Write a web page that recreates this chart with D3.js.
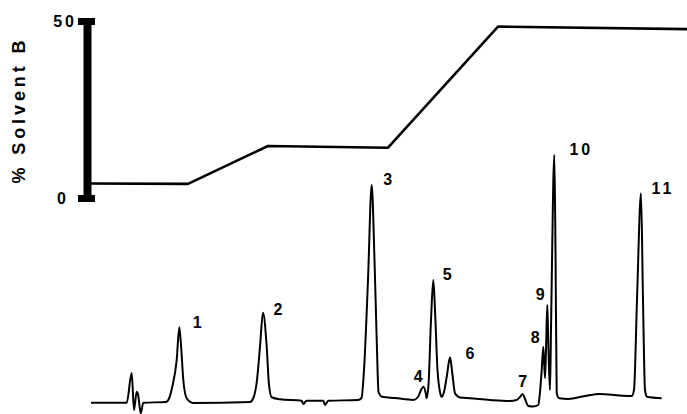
<!DOCTYPE html>
<html>
<head>
<meta charset="utf-8">
<script src="https://cdn.jsdelivr.net/npm/d3@7"></script>
<style>
  body { margin: 0; background: #fff; }
  svg { display: block; }
  .lbl { font-family: "Liberation Sans", Arial, sans-serif; font-weight: bold; fill: #000; }
</style>
</head>
<body>
<div id="chart"></div>
<script>
// gradient program: time (min) vs % solvent B
const gradTime = [0, 10, 18, 30, 41, 60];
const gradB = [4.1, 4.0, 14.7, 14.2, 48.4, 47.7];
const bTicks = [0, 50];

// detector trace (min, arbitrary units)
const traceTime = [0.3, 3.87, 4.37, 4.6, 4.87, 5.0, 5.27, 5.53, 7.8, 8.03, 8.4, 8.87, 9.13, 9.3, 9.53, 9.87, 10.53,
  16.2, 16.53, 16.9, 17.2, 17.5, 17.87, 18.1, 18.37, 19.2, 21.37, 21.53, 21.87, 23.53, 23.7, 24.03,
  27.0, 27.35, 27.6, 28.0, 28.37, 28.65, 28.9, 29.05, 29.4, 30.7, 32.53, 33.0, 33.3, 33.53, 33.75, 33.87,
  34.05, 34.3, 34.53, 34.7, 34.95, 35.2, 35.37, 35.6, 35.9, 36.2, 36.45, 36.7, 37.2, 38.2, 40.2, 42.2,
  42.87, 43.2, 43.47, 43.7, 44.03, 44.5, 45.03, 45.2, 45.37, 45.53, 45.7, 45.8, 45.93, 46.05, 46.2,
  46.3, 46.37, 46.63, 46.75, 46.87, 47.13, 48.03, 49.7, 51.2, 53.2, 54.37, 54.6, 54.9, 55.3, 55.5,
  55.7, 55.9, 57.37];
const traceSignal = [-0.3, -0.3, 11.6, -3.2, 4.1, 3.2, -4.5, -0.3, 0, 0.8, 5.6, 16.8, 29.9, 22.8, 8.8, 1.5, -0.4,
  0, 1.5, 8.8, 22.1, 35.7, 22.1, 6.8, 1.9, 1.1, 0.5, -0.8, 0.5, 0.5, -1.2, 0.5,
  0.8, 1.6, 12.8, 48.8, 86.8, 56.8, 20.8, 4, 2.1, 1.6, 0.8, 2, 4.8, 6.1, 4, 1.5,
  6.8, 32.8, 48.8, 36.8, 12.8, 4, 2.1, 4, 10.8, 17.9, 10.8, 3.5, 1.8, 1.5, 0.8, 0.4,
  0.8, 2, 3.2, 1.2, -1.6, -1.8, -1.2, 4, 12.8, 22.1, 9.6, 20.8, 38.8, 20.8, 4.8,
  28.8, 47.6, 98.8, 60.8, 3.5, 1.5, 1.2, 2.4, 3.2, 2.6, 2.4, 4.8, 40.8, 83.5, 40.8,
  4.8, 2.1, 1.5];

// peak numbering
const peakIds = ['1', '2', '3', '4', '5', '6', '7', '8', '9', '10', '11'];
const peakTime = [9.13, 17.5, 28.37, 33.53, 34.53, 36.2, 43.47, 45.53, 45.93, 46.63, 55.3];
const peakSignal = [29.9, 35.7, 86.8, 6.1, 48.8, 17.9, 3.2, 22.1, 38.8, 98.8, 83.5];

const width = 687, height = 414;
// label offsets from each apex (layout only)
const labelDx = [18, 15, 16, -5, 14, 20, 0, -8, -7, 27, 22];
const labelDy = [-5, -4, -6, -11, -6, -4, -13, -10, -11, -6, -5];

const svg = d3.select('#chart').append('svg')
  .attr('width', width)
  .attr('height', height);

svg.append('rect').attr('width', width).attr('height', height).attr('fill', '#fff');

const x = d3.scaleLinear().domain([0, 60]).range([88, 688]);
const yB = d3.scaleLinear().domain([0, 50]).range([198, 21]);
const yS = d3.scaleLinear().domain([0, 100]).range([402, 152]);

// %B axis: heavy bar with block caps
const axisG = svg.append('g')
  .attr('transform', `translate(${x(0) - 1},0)`)
  .call(d3.axisLeft(yB).tickValues(bTicks).tickSizeOuter(0).tickFormat(d3.format('d')));
axisG.select('.domain').attr('stroke', '#000').attr('stroke-width', 8);
axisG.selectAll('.tick line')
  .attr('x1', -9).attr('x2', 8)
  .attr('stroke', '#000').attr('stroke-width', 7);
axisG.selectAll('.tick text')
  .attr('class', 'lbl')
  .attr('font-size', 16)
  .attr('letter-spacing', 3)
  .attr('x', d => d === 0 ? -18 : -10)
  .attr('dy', '0.36em');

svg.append('text')
  .attr('class', 'lbl')
  .attr('transform', 'translate(25,112) rotate(-90)')
  .attr('text-anchor', 'middle')
  .attr('font-size', 18)
  .attr('textLength', 143)
  .attr('lengthAdjust', 'spacing')
  .text('% Solvent B');

// gradient profile
const gradData = gradTime.map((t, i) => [t, gradB[i]]);
svg.append('path')
  .datum(gradData)
  .attr('fill', 'none')
  .attr('stroke', '#000')
  .attr('stroke-width', 2.6)
  .attr('stroke-linejoin', 'round')
  .attr('d', d3.line().x(d => x(d[0])).y(d => yB(d[1])));

// chromatogram
const traceData = traceTime.map((t, i) => [t, traceSignal[i]]);
svg.append('path')
  .datum(traceData)
  .attr('fill', 'none')
  .attr('stroke', '#000')
  .attr('stroke-width', 2)
  .attr('stroke-linejoin', 'round')
  .attr('d', d3.line().curve(d3.curveMonotoneX).x(d => x(d[0])).y(d => yS(d[1])));

// peak labels
svg.selectAll('.peak')
  .data(peakIds)
  .enter().append('text')
  .attr('class', 'lbl')
  .attr('font-size', 16)
  .attr('letter-spacing', d => d.length > 1 ? 3 : 0)
  .attr('text-anchor', 'middle')
  .attr('dy', '0.36em')
  .attr('x', (d, i) => x(peakTime[i]) + labelDx[i])
  .attr('y', (d, i) => yS(peakSignal[i]) + labelDy[i])
  .text(d => d);
</script>
</body>
</html>
